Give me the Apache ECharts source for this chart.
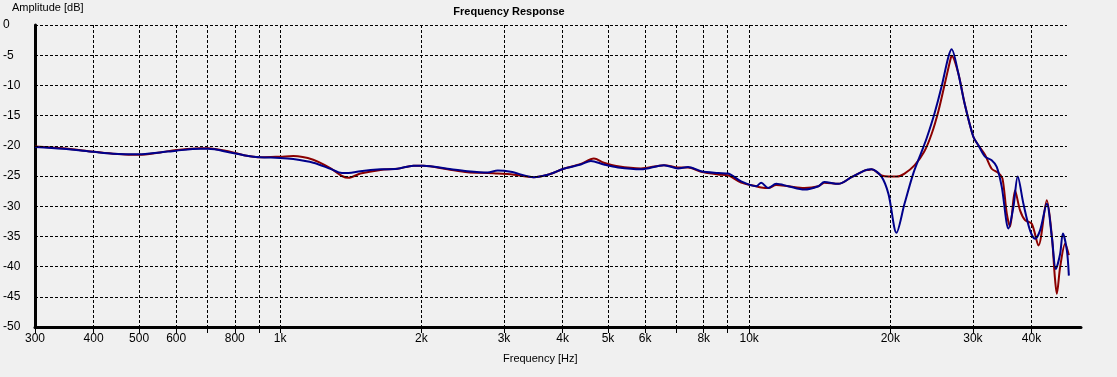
<!DOCTYPE html>
<html>
<head>
<meta charset="utf-8">
<script src="https://cdn.jsdelivr.net/npm/echarts@6/dist/echarts.min.js"></script>
<style>
  html, body { margin: 0; padding: 0; background: #f0f0f0; }
  #chart { width: 1117px; height: 377px; }
</style>
</head>
<body>
<div id="chart"></div>
<script>
// frequency points (Hz) and amplitude (dB)
const blueHz = [300, 344, 400, 440, 500, 554, 600, 675, 702, 782, 842, 906, 1000, 1066, 1176, 1279, 1354, 1398, 1482, 1636,
  1778, 1924, 2021, 2274, 2510, 2769, 2909, 3101, 3472, 3720, 4024, 4375, 4597, 4900, 5250, 5878, 6582, 7052, 7406, 7898,
  8586, 9018, 9614, 10350, 10608, 10980, 11420, 12115, 13110, 14045, 14464, 15497, 16520, 17610, 18230, 19150, 19820, 20610, 21440, 22380,
  23310, 23890, 24850, 25720, 26590, 27020, 27920, 28800, 30060, 30810, 31830, 32890, 33720, 34560, 35720, 36600, 37380, 38440, 39710, 40700,
  41720, 43120, 44200, 45070, 46030, 46650, 47580, 48050];
const blueDb = [-20.2, -20.5, -21.0, -21.3, -21.4, -21.1, -20.8, -20.5, -20.5, -21.1, -21.6, -21.9, -22.0, -22.2, -22.8, -23.8, -24.5, -24.5, -24.2, -23.9,
  -23.8, -23.3, -23.3, -23.8, -24.2, -24.4, -24.1, -24.3, -25.2, -24.8, -23.8, -23.1, -22.5, -23.1, -23.6, -23.9, -23.2, -23.75, -23.5, -24.2,
  -24.5, -24.6, -25.9, -26.7, -26.1, -27.0, -26.3, -26.7, -27.25, -26.7, -26.0, -26.3, -25.2, -24.1, -23.9, -25.1, -28.0, -34.4, -29.6, -24.6,
  -21.0, -18.8, -14.6, -10.2, -5.3, -4.0, -8.0, -13.0, -18.5, -19.9, -21.8, -22.4, -23.5, -26.8, -33.7, -30.1, -25.1, -29.6, -34.0, -35.4,
  -34.0, -29.6, -35.1, -40.4, -37.9, -34.5, -37.3, -41.5];

const redHz = [300, 344, 400, 440, 500, 554, 600, 675, 702, 782, 842, 906, 1000, 1066, 1176, 1279, 1354, 1398, 1482, 1636,
  1778, 1924, 2021, 2274, 2510, 2769, 2909, 3101, 3472, 3720, 4024, 4375, 4665, 4900, 5250, 5878, 6582, 7052, 7406, 7898,
  8586, 9018, 9614, 10350, 10608, 10980, 11420, 12115, 13110, 14045, 14464, 15497, 16520, 17610, 17960, 18230, 19150, 19820, 20610, 21440,
  22540, 23610, 24500, 25350, 26240, 26900, 27020, 27920, 28800, 30060, 30810, 31830, 32890, 34010, 34680, 35420, 36000, 36890, 37810, 38740,
  40050, 41390, 43120, 44200, 44850, 45290, 46030, 47180, 48050];
const redDb = [-20.1, -20.4, -21.0, -21.3, -21.5, -21.1, -20.7, -20.4, -20.4, -21.0, -21.6, -21.9, -21.8, -21.7, -22.3, -23.7, -25.0, -25.3, -24.6, -24.0,
  -23.8, -23.3, -23.3, -23.9, -24.4, -24.5, -24.6, -24.7, -25.2, -24.8, -23.8, -23.0, -22.1, -22.8, -23.4, -23.75, -23.2, -23.6, -23.6, -24.3,
  -24.75, -24.9, -26.1, -26.7, -26.9, -27.0, -26.5, -26.7, -27.0, -26.7, -26.1, -26.3, -25.2, -24.1, -24.0, -23.9, -24.9, -25.1, -25.1, -24.6,
  -23.2, -21.0, -18.0, -14.1, -9.1, -5.5, -5.1, -8.0, -13.0, -18.5, -19.9, -21.5, -23.8, -24.5, -25.4, -31.2, -33.4, -27.4, -30.7, -32.3,
  -32.9, -36.5, -29.0, -35.0, -41.7, -44.5, -40.1, -36.2, -38.1];

// axis ticks
const gridHz = [300, 400, 500, 600, 700, 800, 900, 1000, 2000, 3000, 4000, 5000, 6000, 7000, 8000, 9000, 10000, 20000, 30000, 40000];
const labelHz = [300, 400, 500, 600, 800, 1000, 2000, 3000, 4000, 5000, 6000, 8000, 10000, 20000, 30000, 40000];
const dbLines = [0, -5, -10, -15, -20, -25, -30, -35, -40, -45];

const hzMin = 300, hzMax = 51000, gridEndHz = 47600;

function zip(xs, ys) {
	return xs.map(function (x, i) { return [x, ys[i]]; });
}

var myChart = echarts.init(document.getElementById('chart'));
myChart.setOption({
	animation: false,
	backgroundColor: '#f0f0f0',
	textStyle: { fontFamily: 'Liberation Sans, Arial, sans-serif' },
	grid: { left: 35, right: 36, top: 25, bottom: 50, containLabel: false },
	graphic: [
		{ type: 'text', x: 509, y: 6, style: { text: 'Frequency Response', fill: '#000', font: 'bold 11px Liberation Sans, Arial', textAlign: 'center' } },
		{ type: 'text', x: 12, y: 2, style: { text: 'Amplitude [dB]', fill: '#000', font: '11px Liberation Sans, Arial' } },
		{ type: 'text', x: 503, y: 353, style: { text: 'Frequency [Hz]', fill: '#000', font: '11px Liberation Sans, Arial' } }
	],
	xAxis: {
		type: 'log',
		logBase: 10,
		min: hzMin,
		max: hzMax,
		axisLine: { show: true, onZero: false, lineStyle: { color: '#000', width: 3 } },
		axisTick: { show: true, customValues: gridHz, length: 6, lineStyle: { color: '#000', width: 1 } },
		axisLabel: {
			customValues: labelHz,
			color: '#000',
			fontSize: 12,
			margin: 6,
			formatter: function (v) { return v >= 1000 ? (v / 1000) + 'k' : String(v); }
		},
		splitLine: { show: true, lineStyle: { color: '#000', width: 1, type: [3, 2] } }
	},
	yAxis: {
		type: 'value',
		min: -50,
		max: 0,
		interval: 5,
		axisLine: { show: true, lineStyle: { color: '#000', width: 3 } },
		axisTick: { show: false },
		axisLabel: { color: '#000', fontSize: 12, align: 'left', margin: 32 },
		splitLine: { show: false }
	},
	series: [
		{
			name: 'grid',
			type: 'line',
			data: [],
			silent: true,
			z: 1,
			markLine: {
				silent: true,
				symbol: ['none', 'none'],
				label: { show: false },
				lineStyle: { color: '#000', width: 1, type: [3, 2] },
				data: dbLines.map(function (v) { return [{ coord: [hzMin, v] }, { coord: [gridEndHz, v] }]; })
			}
		},
		{
			name: 'red',
			type: 'line',
			data: zip(redHz, redDb),
			showSymbol: false,
			smooth: 0.3,
			z: 3,
			lineStyle: { color: '#8b0000', width: 2 }
		},
		{
			name: 'blue',
			type: 'line',
			data: zip(blueHz, blueDb),
			showSymbol: false,
			smooth: 0.3,
			z: 4,
			lineStyle: { color: '#00008b', width: 2 }
		}
	]
});
window.addEventListener('resize', function () {
	myChart.resize();
});
</script>
</body>
</html>
